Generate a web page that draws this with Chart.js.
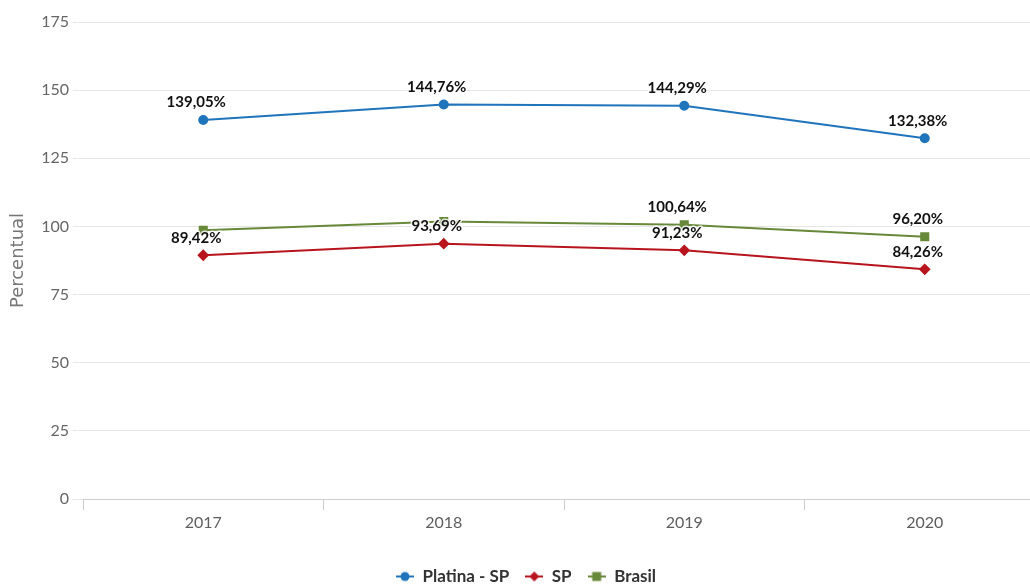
<!DOCTYPE html>
<html>
<head>
<meta charset="utf-8">
<script src="https://cdn.jsdelivr.net/npm/chart.js@4.4.1/dist/chart.umd.min.js"></script>
<style>
  html, body { margin: 0; padding: 0; background: #fff; overflow: hidden; }
  #wrap { position: relative; width: 1052px; height: 595px; }
</style>
</head>
<body>
<div id="wrap"><canvas id="chart"></canvas></div>
<script>
// ── Data ──────────────────────────────────────────────────────────────────────
const years = ['2017', '2018', '2019', '2020'];
const platinaSP = [139.05, 144.76, 144.29, 132.38];
const sp = [89.42, 93.69, 91.23, 84.26];
const brasil = [98.6, 101.8, 100.64, 96.20];
// which value labels were visible in the original (others hidden by overlap)
const platinaLabels = [true, true, true, true];
const spLabels = [true, true, true, true];
const brasilLabels = [false, false, true, true];

const FONT = "Lato, 'Open Sans', sans-serif";
const BLUE = '#1f74bb';
const RED = '#b8141e';
const GREEN = '#68883a';

// Legend symbol: short line with the marker on top
function legendIcon(color, style) {
  const c = document.createElement('canvas');
  c.width = 18; c.height = 12;
  const g = c.getContext('2d');
  g.strokeStyle = color; g.lineWidth = 2;
  g.beginPath(); g.moveTo(0, 6); g.lineTo(18, 6); g.stroke();
  g.fillStyle = color;
  g.beginPath();
  if (style === 'circle') g.arc(9, 6, 4.5, 0, Math.PI * 2);
  else if (style === 'diamond') { g.moveTo(9, 1); g.lineTo(14, 6); g.lineTo(9, 11); g.lineTo(4, 6); g.closePath(); }
  else g.rect(4.5, 1.5, 9, 9);
  g.fill();
  return c;
}

// Value labels above points
const valueLabels = {
  id: 'valueLabels',
  afterDatasetsDraw(chart) {
    const ctx = chart.ctx;
    ctx.save();
    ctx.font = `bold 15px ${FONT}`;
    ctx.textAlign = 'center';
    ctx.textBaseline = 'bottom';
    ctx.lineJoin = 'round';
    chart.data.datasets.forEach((ds, i) => {
      const meta = chart.getDatasetMeta(i);
      meta.data.forEach((pt, j) => {
        if (!ds.showLabel[j]) return;
        const txt = ds.data[j].toFixed(2).replace('.', ',') + '%';
        ctx.strokeStyle = 'rgba(255,255,255,0.8)';
        ctx.lineWidth = 3;
        ctx.strokeText(txt, pt.x - 7, pt.y - 10);
        ctx.fillStyle = '#111';
        ctx.fillText(txt, pt.x - 7, pt.y - 10);
      });
    });
    ctx.restore();
  },
};

function series(label, data, color, style, showLabel, radius) {
  return {
    label,
    data,
    showLabel,
    borderColor: color,
    backgroundColor: color,
    borderWidth: 2,
    pointStyle: style === 'diamond' ? 'rectRot' : (style === 'square' ? 'rect' : 'circle'),
    pointRadius: radius,
    pointHoverRadius: radius,
    tension: 0,
    legendIcon: legendIcon(color, style),
  };
}

new Chart(document.getElementById('chart'), {
  type: 'line',
  data: {
    labels: years,
    datasets: [
      series('Platina - SP', platinaSP, BLUE, 'circle', platinaLabels, 4),
      series('SP', sp, RED, 'diamond', spLabels, 4.5),
      series('Brasil', brasil, GREEN, 'square', brasilLabels, 5),
    ],
  },
  options: {
    responsive: true,
    maintainAspectRatio: false,
    animation: false,
    layout: { padding: { top: 22, right: 0, left: 0, bottom: 0 } },
    plugins: {
      tooltip: { enabled: false },
      legend: {
        position: 'bottom',
        labels: {
          color: '#333',
          font: { family: FONT, size: 17, weight: 'bold' },
          usePointStyle: true,
          pointStyleWidth: 18,
          padding: 16,
          boxHeight: 12,
          generateLabels(chart) {
            return chart.data.datasets.map((ds, i) => ({
              text: ds.label,
              pointStyle: ds.legendIcon,
              fillStyle: ds.borderColor,
              strokeStyle: ds.borderColor,
              fontColor: '#333',
              lineWidth: 0,
              hidden: false,
              datasetIndex: i,
            }));
          },
        },
      },
    },
    scales: {
      x: {
        offset: true,
        grid: { offset: true, drawOnChartArea: false, drawTicks: true, tickLength: 11, color: '#cccccc' },
        border: { color: '#cccccc' },
        ticks: { color: '#5e5e5e', font: { family: FONT, size: 16 }, padding: 3 },
        afterFit(scale) { scale.height = 53; },
      },
      y: {
        min: 0,
        max: 175,
        ticks: { stepSize: 25, color: '#666', font: { family: FONT, size: 16 }, padding: 4 },
        grid: { color: '#e6e6e6', tickLength: 10, tickColor: '#e6e6e6' },
        border: { display: false },
        title: { display: true, text: 'Percentual', color: '#777', font: { family: "'DejaVu Sans', sans-serif", size: 18 }, padding: { top: 8, bottom: 0 } },
        afterFit(scale) { scale.width = 83; },
      },
    },
  },
  plugins: [valueLabels],
});
</script>
</body>
</html>
